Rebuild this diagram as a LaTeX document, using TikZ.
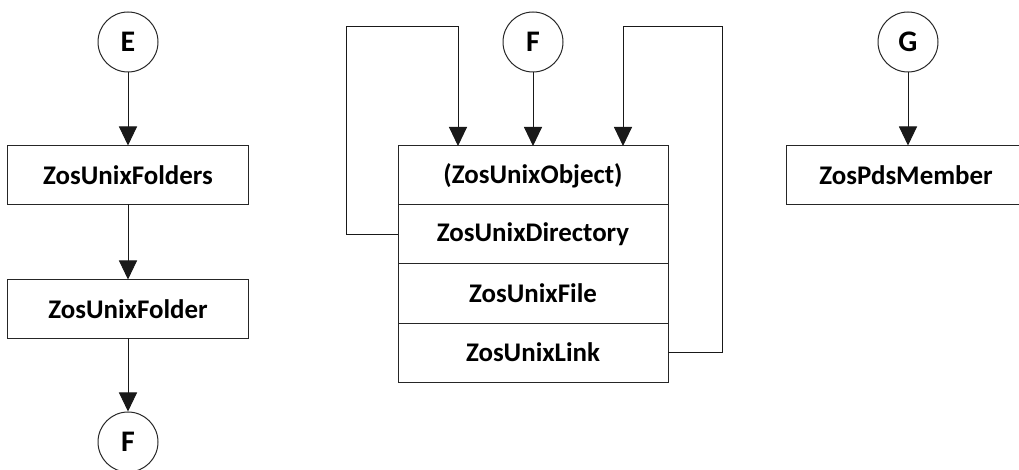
\documentclass[tikz,border=0pt]{standalone}
\usepackage{fontspec}
\setmainfont{Carlito}
\usetikzlibrary{positioning,arrows.meta}

\tikzset{
  conn/.style={draw=black!90, line width=1bp, -{Triangle[width=18bp,length=19bp]}},
  classbox/.style={draw=black!85, line width=1bp, rectangle, minimum width=240bp, minimum height=59bp,
    inner sep=0pt, outer sep=0pt, font=\fontsize{27}{31}\selectfont\bfseries},
  rowbox/.style={classbox, minimum width=270bp},
  offpage/.style={draw=black!85, line width=1bp, circle, minimum size=60bp, inner sep=0pt,
    font=\fontsize{30}{34}\selectfont\bfseries}
}

\begin{document}
\begin{tikzpicture}[x=1bp, y=-1bp, node distance=0pt]
\clip (0, 0) rectangle (1019, 470);

% left column
\node[offpage] (E) at (128, 42) {E};
\node[classbox] (folders) at (128, 175) {ZosUnixFolders};
\node[classbox] (folder) at (128, 309) {ZosUnixFolder};
\node[offpage] (Fout) at (128, 442) {F};
\draw[conn] (E) -- (folders);
\draw[conn] (folders) -- (folder);
\draw[conn] (folder) -- (Fout);

% middle column
\node[offpage] (Fin) at (533, 42) {F};
\node[rowbox] (object) at (533, 175.5) {(ZosUnixObject)};
\node[rowbox, below=of object] (directory) {ZosUnixDirectory};
\node[rowbox, below=of directory] (file) {ZosUnixFile};
\node[rowbox, below=of file] (unixlink) {ZosUnixLink};
\coordinate (lcorner) at (346, 27);
\coordinate (rcorner) at (722, 27);
\draw[conn] (Fin) -- (object);
\draw[conn] (directory.west) -| (lcorner) -| ([xshift=-75bp]object.north);
\draw[conn] (unixlink.east) -| (rcorner) -| ([xshift=90bp]object.north);

% right column
\node[offpage] (G) at (908, 42) {G};
\node[classbox] (member) at (906, 175) {ZosPdsMember};
\draw[conn] (G) -- (G |- member.north);
\end{tikzpicture}
\end{document}
